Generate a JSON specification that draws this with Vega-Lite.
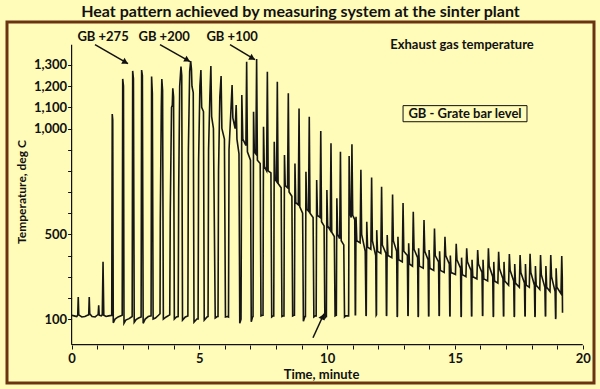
{
  "$schema": "https://vega.github.io/schema/vega-lite/v6.json",
  "width": 587,
  "height": 361,
  "autosize": {"type": "none"},
  "padding": {"left": 7, "top": 22, "right": 6, "bottom": 6},
  "background": "#FFFBB8",
  "title": {"text": "Heat pattern achieved by measuring system at the  sinter plant", "anchor": "middle", "font": "Lato", "fontSize": 16, "fontWeight": "bold", "color": "#111111", "offset": 2},
  "config": {"view": {"stroke": "#6b3410", "strokeWidth": 3}},
  "datasets": {
    "trace": [
      {"t":0.00,"v":118},{"t":0.10,"v":115},{"t":0.20,"v":112},{"t":0.24,"v":118},{"t":0.26,"v":204},{"t":0.28,"v":120},{"t":0.40,"v":110},{"t":0.52,"v":112},{"t":0.62,"v":118},{"t":0.67,"v":120},{"t":0.69,"v":204},{"t":0.71,"v":125},{"t":0.80,"v":112},{"t":0.92,"v":110},{"t":1.00,"v":118},{"t":1.04,"v":122},{"t":1.06,"v":165},{"t":1.08,"v":118},{"t":1.16,"v":115},{"t":1.20,"v":120},{"t":1.23,"v":371},{"t":1.26,"v":118},{"t":1.35,"v":112},{"t":1.45,"v":115},
      {"t":1.57,"v":118},{"t":1.59,"v":1068},{"t":1.61,"v":1040},{"t":1.63,"v":82},{"t":1.70,"v":100},{"t":1.82,"v":110},
      {"t":1.98,"v":118},{"t":2.00,"v":1234},{"t":2.03,"v":1200},{"t":2.05,"v":80},{"t":2.12,"v":95},{"t":2.25,"v":102},
      {"t":2.37,"v":112},{"t":2.39,"v":1272},{"t":2.42,"v":1235},{"t":2.45,"v":85},{"t":2.52,"v":97},{"t":2.62,"v":105},
      {"t":2.72,"v":110},{"t":2.74,"v":1276},{"t":2.77,"v":1250},{"t":2.80,"v":80},{"t":2.88,"v":100},{"t":3.00,"v":112},
      {"t":3.11,"v":115},{"t":3.13,"v":1245},{"t":3.16,"v":1165},{"t":3.19,"v":100},{"t":3.28,"v":105},{"t":3.40,"v":118},{"t":3.46,"v":125},
      {"t":3.47,"v":560},{"t":3.51,"v":1100},{"t":3.53,"v":1234},{"t":3.56,"v":1180},{"t":3.59,"v":100},{"t":3.70,"v":110},{"t":3.84,"v":120},
      {"t":3.86,"v":600},{"t":3.91,"v":1100},{"t":3.94,"v":1110},{"t":3.96,"v":1190},{"t":3.99,"v":1150},{"t":4.02,"v":100},{"t":4.10,"v":110},{"t":4.17,"v":112},
      {"t":4.19,"v":700},{"t":4.23,"v":1200},{"t":4.28,"v":1292},{"t":4.31,"v":1250},{"t":4.34,"v":95},{"t":4.45,"v":110},{"t":4.55,"v":115},
      {"t":4.57,"v":900},{"t":4.62,"v":1270},{"t":4.66,"v":1319},{"t":4.69,"v":1280},{"t":4.71,"v":1200},{"t":4.76,"v":1170},{"t":4.79,"v":85},{"t":4.90,"v":100},{"t":4.95,"v":100},
      {"t":4.97,"v":850},{"t":5.02,"v":1200},{"t":5.06,"v":1276},{"t":5.09,"v":1100},{"t":5.16,"v":1080},{"t":5.19,"v":95},{"t":5.30,"v":110},{"t":5.34,"v":112},
      {"t":5.36,"v":900},{"t":5.41,"v":1150},{"t":5.45,"v":1295},{"t":5.48,"v":1056},{"t":5.55,"v":1000},{"t":5.58,"v":620},{"t":5.62,"v":105},{"t":5.70,"v":112},{"t":5.73,"v":112},
      {"t":5.75,"v":800},{"t":5.80,"v":1150},{"t":5.85,"v":1248},{"t":5.88,"v":1000},{"t":5.98,"v":950},{"t":6.02,"v":110},{"t":6.10,"v":112},{"t":6.14,"v":110},
      {"t":6.16,"v":900},{"t":6.24,"v":1100},{"t":6.28,"v":1205},{"t":6.31,"v":1050},{"t":6.40,"v":1000},{"t":6.44,"v":1111},{"t":6.47,"v":950},{"t":6.55,"v":880},{"t":6.58,"v":80},{"t":6.63,"v":100},
      {"t":6.66,"v":1158},{"t":6.70,"v":950},{"t":6.82,"v":920},{"t":6.85,"v":1315},{"t":6.88,"v":890},{"t":7.00,"v":850},{"t":7.03,"v":87},{"t":7.08,"v":110},
      {"t":7.10,"v":112},{"t":7.12,"v":1079},{"t":7.15,"v":890},{"t":7.21,"v":880},{"t":7.24,"v":1328},{"t":7.27,"v":850},{"t":7.38,"v":835},{"t":7.41,"v":115},{"t":7.47,"v":118},
      {"t":7.49,"v":118},{"t":7.51,"v":1008},{"t":7.54,"v":820},{"t":7.63,"v":800},{"t":7.66,"v":1268},{"t":7.69,"v":800},{"t":7.80,"v":790},{"t":7.83,"v":110},{"t":7.89,"v":115},
      {"t":7.91,"v":115},{"t":7.93,"v":937},{"t":7.96,"v":760},{"t":8.02,"v":750},{"t":8.05,"v":1221},{"t":8.08,"v":740},{"t":8.20,"v":720},{"t":8.23,"v":112},{"t":8.29,"v":115},
      {"t":8.31,"v":115},{"t":8.33,"v":875},{"t":8.36,"v":730},{"t":8.45,"v":720},{"t":8.48,"v":1166},{"t":8.51,"v":700},{"t":8.62,"v":680},{"t":8.65,"v":115},{"t":8.70,"v":118},
      {"t":8.72,"v":118},{"t":8.74,"v":835},{"t":8.77,"v":650},{"t":8.87,"v":640},{"t":8.90,"v":1095},{"t":8.93,"v":630},{"t":9.04,"v":600},{"t":9.07,"v":90},{"t":9.13,"v":112},
      {"t":9.15,"v":112},{"t":9.17,"v":796},{"t":9.20,"v":620},{"t":9.27,"v":610},{"t":9.30,"v":1056},{"t":9.33,"v":600},{"t":9.45,"v":580},{"t":9.48,"v":110},{"t":9.54,"v":115},
      {"t":9.57,"v":115},{"t":9.59,"v":757},{"t":9.62,"v":590},{"t":9.72,"v":580},{"t":9.75,"v":988},{"t":9.78,"v":560},{"t":9.88,"v":540},{"t":9.91,"v":105},{"t":9.96,"v":112},
      {"t":9.97,"v":112},{"t":9.99,"v":709},{"t":10.02,"v":540},{"t":10.12,"v":520},{"t":10.15,"v":930},{"t":10.18,"v":510},{"t":10.28,"v":490},{"t":10.31,"v":115},{"t":10.35,"v":118},
      {"t":10.36,"v":118},{"t":10.38,"v":670},{"t":10.41,"v":500},{"t":10.49,"v":480},{"t":10.52,"v":890},{"t":10.55,"v":470},{"t":10.65,"v":450},{"t":10.68,"v":110},{"t":10.73,"v":115},
      {"t":10.84,"v":115},{"t":10.86,"v":870},{"t":10.89,"v":600},{"t":10.94,"v":580},{"t":10.97,"v":925},{"t":11.00,"v":590},{"t":11.08,"v":570},{"t":11.10,"v":120},{"t":11.11,"v":120},
      {"t":11.13,"v":583},{"t":11.16,"v":470},{"t":11.29,"v":460},{"t":11.32,"v":805},{"t":11.35,"v":500},{"t":11.49,"v":420},{"t":11.52,"v":115},{"t":11.53,"v":118},
      {"t":11.55,"v":560},{"t":11.58,"v":440},{"t":11.71,"v":430},{"t":11.74,"v":769},{"t":11.77,"v":470},{"t":11.90,"v":400},{"t":11.92,"v":118},{"t":11.93,"v":120},
      {"t":11.94,"v":520},{"t":11.97,"v":420},{"t":12.10,"v":410},{"t":12.13,"v":725},{"t":12.16,"v":450},{"t":12.30,"v":410},{"t":12.32,"v":115},{"t":12.33,"v":118},
      {"t":12.35,"v":497},{"t":12.38,"v":400},{"t":12.53,"v":390},{"t":12.56,"v":688},{"t":12.59,"v":470},{"t":12.72,"v":420},{"t":12.74,"v":110},{"t":12.75,"v":115},
      {"t":12.77,"v":489},{"t":12.80,"v":380},{"t":12.94,"v":370},{"t":12.97,"v":648},{"t":13.00,"v":420},{"t":13.14,"v":400},{"t":13.16,"v":115},{"t":13.17,"v":118},
      {"t":13.19,"v":458},{"t":13.22,"v":360},{"t":13.34,"v":350},{"t":13.37,"v":607},{"t":13.40,"v":430},{"t":13.54,"v":390},{"t":13.56,"v":110},{"t":13.57,"v":115},
      {"t":13.58,"v":434},{"t":13.61,"v":350},{"t":13.76,"v":340},{"t":13.79,"v":568},{"t":13.82,"v":420},{"t":13.95,"v":380},{"t":13.97,"v":112},{"t":13.98,"v":115},
      {"t":13.99,"v":426},{"t":14.02,"v":340},{"t":14.17,"v":330},{"t":14.20,"v":528},{"t":14.23,"v":400},{"t":14.36,"v":370},{"t":14.38,"v":115},{"t":14.39,"v":118},
      {"t":14.40,"v":420},{"t":14.43,"v":330},{"t":14.58,"v":320},{"t":14.61,"v":489},{"t":14.64,"v":400},{"t":14.78,"v":360},{"t":14.80,"v":112},{"t":14.81,"v":115},
      {"t":14.82,"v":400},{"t":14.85,"v":320},{"t":15.02,"v":310},{"t":15.05,"v":456},{"t":15.08,"v":380},{"t":15.22,"v":340},{"t":15.24,"v":110},{"t":15.25,"v":115},
      {"t":15.26,"v":390},{"t":15.29,"v":310},{"t":15.43,"v":300},{"t":15.46,"v":434},{"t":15.49,"v":370},{"t":15.63,"v":330},{"t":15.65,"v":112},{"t":15.66,"v":115},
      {"t":15.67,"v":380},{"t":15.70,"v":300},{"t":15.86,"v":290},{"t":15.89,"v":426},{"t":15.92,"v":360},{"t":16.06,"v":320},{"t":16.08,"v":115},{"t":16.09,"v":118},
      {"t":16.10,"v":380},{"t":16.13,"v":290},{"t":16.28,"v":280},{"t":16.31,"v":434},{"t":16.34,"v":350},{"t":16.48,"v":300},{"t":16.50,"v":110},{"t":16.51,"v":115},
      {"t":16.52,"v":370},{"t":16.55,"v":280},{"t":16.68,"v":270},{"t":16.71,"v":418},{"t":16.74,"v":340},{"t":16.88,"v":290},{"t":16.90,"v":112},{"t":16.91,"v":115},
      {"t":16.92,"v":370},{"t":16.95,"v":280},{"t":17.10,"v":260},{"t":17.13,"v":407},{"t":17.16,"v":330},{"t":17.30,"v":280},{"t":17.32,"v":110},{"t":17.33,"v":115},
      {"t":17.34,"v":360},{"t":17.37,"v":270},{"t":17.52,"v":250},{"t":17.55,"v":402},{"t":17.58,"v":320},{"t":17.72,"v":270},{"t":17.74,"v":112},{"t":17.75,"v":115},
      {"t":17.76,"v":360},{"t":17.79,"v":260},{"t":17.91,"v":250},{"t":17.94,"v":408},{"t":17.97,"v":320},{"t":18.11,"v":260},{"t":18.13,"v":110},{"t":18.14,"v":115},
      {"t":18.15,"v":350},{"t":18.18,"v":260},{"t":18.32,"v":240},{"t":18.35,"v":402},{"t":18.38,"v":310},{"t":18.52,"v":250},{"t":18.54,"v":112},{"t":18.55,"v":115},
      {"t":18.56,"v":350},{"t":18.59,"v":250},{"t":18.72,"v":230},{"t":18.75,"v":402},{"t":18.78,"v":300},{"t":18.92,"v":230},{"t":18.94,"v":100},{"t":18.95,"v":110},
      {"t":18.96,"v":340},{"t":18.99,"v":250},{"t":19.15,"v":220},{"t":19.18,"v":398},{"t":19.20,"v":300},{"t":19.21,"v":130}
    ],
    "axislines": [
      {"t":0,"v":-21,"t2":0,"v2":1395},
      {"t":0,"v":-21,"t2":20,"v2":-21}
    ],
    "arrows": [
      {"t":0.916,"v":1396,"t2":2.207,"v2":1306},
      {"t":3.459,"v":1396,"t2":4.633,"v2":1316},
      {"t":6.198,"v":1396,"t2":7.176,"v2":1325},
      {"t":9.446,"v":12,"t2":9.876,"v2":125}
    ],
    "headsDown": [
      {"t":2.105,"v":1313},
      {"t":4.531,"v":1323},
      {"t":7.075,"v":1332}
    ],
    "headsUp": [
      {"t":9.826,"v":112}
    ],
    "notes": [
      {"t":1.23,"v":1434,"label":"GB +275"},
      {"t":3.62,"v":1434,"label":"GB +200"},
      {"t":6.28,"v":1434,"label":"GB +100"},
      {"t":15.277,"v":1396,"label":"Exhaust gas temperature"},
      {"t":15.394,"v":1070,"label":"GB - Grate bar level"}
    ],
    "box": [
      {"t":12.97,"v":1108,"t2":17.82,"v2":1032}
    ]
  },
  "encoding": {
    "x": {
      "field": "t", "type": "quantitative",
      "scale": {"domain": [-2.528, 20.442], "nice": false, "zero": false},
      "axis": {
        "offset": -38, "domain": false, "grid": false,
        "values": [0,1,2,3,4,5,6,7,8,9,10,11,12,13,14,15,16,17,18,19,20],
        "labelExpr": "datum.value % 5 == 0 ? datum.label : ''",
        "tickSize": 4, "tickColor": "#111111", "labelPadding": 3,
        "labelFont": "Lato", "labelFontSize": 13, "labelFontWeight": "bold", "labelColor": "#111111",
        "labelOverlap": false, "labelFlush": false,
        "title": "Time, minute", "titleFont": "Lato", "titleFontSize": 13, "titleFontWeight": "bold", "titleColor": "#111111",
        "titleX": 314, "titleY": 29, "titleBaseline": "middle", "titleAlign": "center"
      }
    },
    "y": {
      "field": "v", "type": "quantitative",
      "scale": {"domain": [-202, 1503], "nice": false, "zero": false},
      "axis": {
        "offset": -64.6, "domain": false, "grid": false,
        "values": [100,200,300,400,500,600,700,800,900,1000,1100,1200,1300],
        "labelExpr": "indexof([100,500,1000,1100,1200,1300], datum.value) >= 0 ? format(datum.value, ',') : ''",
        "tickSize": 4, "tickColor": "#111111", "labelPadding": 1,
        "labelFont": "Lato", "labelFontSize": 13, "labelFontWeight": "bold", "labelColor": "#111111",
        "labelOverlap": false, "labelFlush": false,
        "title": "Temperature, deg C", "titleFont": "Lato", "titleFontSize": 12, "titleFontWeight": "bold", "titleColor": "#111111",
        "titleX": -50.6, "titleY": 169.5, "titleBaseline": "middle", "titleAlign": "center", "titleAngle": -90
      }
    }
  },
  "layer": [
    {"data": {"name": "axislines"}, "mark": {"type": "rule", "color": "#111111", "strokeWidth": 1.2}, "encoding": {"x2": {"field": "t2"}, "y2": {"field": "v2"}}},
    {"data": {"name": "box"}, "mark": {"type": "rect", "fill": "transparent", "stroke": "#111111", "strokeWidth": 1}, "encoding": {"x2": {"field": "t2"}, "y2": {"field": "v2"}}},
    {"data": {"name": "trace"}, "mark": {"type": "line", "color": "#161616", "strokeWidth": 1.6}},
    {"data": {"name": "arrows"}, "mark": {"type": "rule", "color": "#111111", "strokeWidth": 1.5}, "encoding": {"x2": {"field": "t2"}, "y2": {"field": "v2"}}},
    {"data": {"name": "headsDown"}, "mark": {"type": "point", "shape": "triangle-right", "filled": true, "color": "#111111", "size": 45, "angle": 30, "opacity": 1}},
    {"data": {"name": "headsUp"}, "mark": {"type": "point", "shape": "triangle-right", "filled": true, "color": "#111111", "size": 45, "angle": -65, "opacity": 1}},
    {"data": {"name": "notes"}, "mark": {"type": "text", "font": "Lato", "fontSize": 13, "fontWeight": "bold", "color": "#111111", "align": "center", "baseline": "middle"}, "encoding": {"text": {"field": "label"}}}
  ]
}
